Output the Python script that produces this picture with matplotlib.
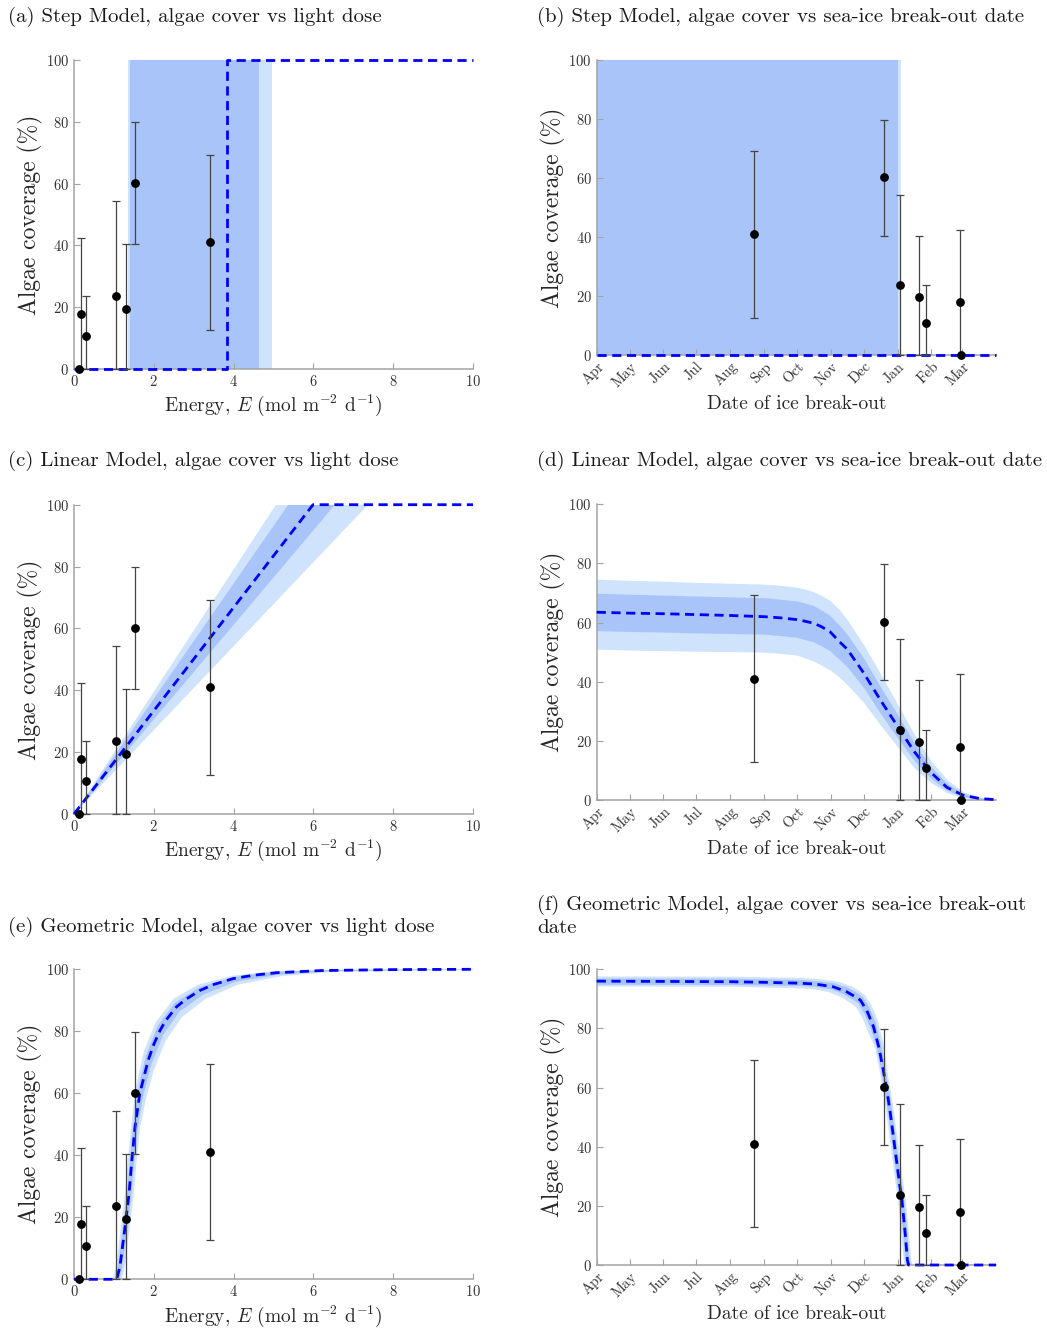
import numpy as np
import matplotlib.pyplot as plt

plt.rcParams['font.family'] = ['cmr10']
plt.rcParams['mathtext.fontset'] = 'cm'
plt.rcParams['axes.formatter.use_mathtext'] = True

# observed algae cover (%), with error bar limits
cover = np.array([0.0, 17.8, 10.8, 23.7, 19.5, 60.2, 41.0])
cover_lo = np.array([0.0, 0.0, 0.0, 0.0, 0.0, 40.5, 12.7])
cover_hi = np.array([0.0, 42.5, 23.7, 54.3, 40.5, 79.8, 69.3])
energy = np.array([0.13, 0.18, 0.29, 1.05, 1.30, 1.52, 3.41])
breakout_day = np.array([333, 332, 301, 277, 295, 263, 144])  # days after 1 April

months = ['Apr', 'May', 'Jun', 'Jul', 'Aug', 'Sep', 'Oct', 'Nov', 'Dec', 'Jan', 'Feb', 'Mar']
month_day = [0, 30, 61, 91, 122, 153, 183, 214, 244, 275, 306, 334]

# step model
step_E = [0, 3.84, 3.84, 10]
step_E_y = [0, 0, 100, 100]
step_E_light = [1.35, 4.97]
step_E_dark = [1.40, 4.63]
step_d = [0, 365]
step_d_y = [0, 0]
step_d_light = [-20, 278]
step_d_dark = [-20, 275.3]

# linear model, energy
lin_E = [0, 5.99, 10]
lin_E_y = [0, 100, 100]
lin_E_light_up = [0, 5.06, 10]
lin_E_light_lo = [0, 7.37, 10]
lin_E_dark_up = [0, 5.37, 10]
lin_E_dark_lo = [0, 6.54, 10]

# linear model, date
lin_d = [0, 30, 61, 91, 122, 153, 168, 183, 190, 198, 205, 213, 222, 229, 244, 259, 274, 290, 305, 320, 335, 350, 365]
lin_d_y = [63.5, 63.2, 63.0, 62.7, 62.4, 62.0, 61.6, 61.0, 60.5, 59.8, 58.7, 57.0, 53.5, 51.0, 43.0, 34.0, 25.5, 16.5, 9.5, 4.3, 1.6, 0.5, 0.1]
lin_d_light_up = [74.7, 74.3, 74.0, 73.6, 73.3, 73.0, 72.6, 72.0, 71.4, 70.5, 69.3, 67.5, 64.3, 61.0, 52.5, 43.0, 33.0, 22.5, 13.5, 7.0, 2.8, 1.0, 0.3]
lin_d_light_lo = [51.0, 50.7, 50.5, 50.3, 50.2, 50.0, 49.6, 49.0, 48.1, 47.0, 45.7, 44.0, 41.5, 39.0, 33.0, 25.5, 18.5, 11.0, 6.0, 2.5, 0.8, 0.2, 0.0]
lin_d_dark_up = [69.9, 69.6, 69.3, 69.0, 68.7, 68.4, 67.9, 67.3, 66.6, 65.8, 64.3, 62.5, 59.0, 56.0, 48.0, 38.5, 29.5, 19.5, 11.5, 5.7, 2.2, 0.7, 0.2]
lin_d_dark_lo = [57.3, 57.0, 56.8, 56.5, 56.3, 56.1, 55.6, 55.0, 54.3, 53.5, 52.2, 50.5, 47.5, 45.0, 38.0, 29.5, 21.5, 13.5, 7.5, 3.3, 1.1, 0.3, 0.0]

# geometric model, energy
geo_E = [0, 1.07, 1.15, 1.28, 1.38, 1.45, 1.53, 1.65, 1.86, 2.0, 2.16, 2.3, 2.57, 2.8, 3.16, 3.5, 3.99, 4.5, 5.08, 6.2, 8, 10]
geo_E_y = [0, 0, 4, 17, 27.7, 38.5, 49.2, 60, 70.7, 75.8, 80.4, 83.5, 87.9, 90.3, 93.2, 95.1, 97, 98.1, 98.9, 99.6, 99.9, 100]
geo_E_light_up_x = [0.97, 1.05, 1.18, 1.28, 1.35, 1.43, 1.55, 1.75, 2.05, 2.5, 3.1, 4.0, 5.0, 6.5, 10]
geo_E_light_up_y = [0, 4, 17, 27.7, 38.5, 49.2, 62, 73.5, 83, 90.5, 95, 98, 99.4, 99.9, 100]
geo_E_light_lo_x = [1.2, 1.27, 1.4, 1.5, 1.57, 1.66, 1.8, 2.0, 2.3, 2.7, 3.3, 4.1, 5.2, 6.5, 10]
geo_E_light_lo_y = [0, 4, 17, 27.7, 38.5, 49.2, 58, 67.5, 77, 84.5, 90.5, 95, 97.8, 99.2, 99.9]
geo_E_dark_up_x = [1.02, 1.1, 1.23, 1.33, 1.4, 1.48, 1.6, 1.8, 2.1, 2.53, 3.13, 4.0, 5.04, 6.5, 10]
geo_E_dark_up_y = [0, 4, 17, 27.7, 38.5, 49.2, 61, 72, 81.8, 89.2, 94.1, 97.5, 99.2, 99.8, 100]
geo_E_dark_lo_x = [1.14, 1.21, 1.34, 1.44, 1.51, 1.6, 1.73, 1.93, 2.23, 2.63, 3.23, 4.05, 5.14, 6.5, 10]
geo_E_dark_lo_y = [0, 4, 17, 27.7, 38.5, 49.2, 59, 69, 78.7, 86.2, 91.8, 96, 98.3, 99.4, 99.9]

# geometric model, date
geo_d = [0, 61, 122, 153, 186, 200, 216, 228, 235, 241, 247, 253, 258, 262, 265, 268, 271, 274, 277, 279, 282, 284, 285, 365]
geo_d_y = [96, 95.9, 95.8, 95.6, 95.3, 95.0, 94.1, 92.5, 91, 89.6, 86, 80.6, 73.5, 65.9, 59.5, 52.4, 44, 35.5, 27, 22, 10.7, 1.7, 0, 0]
geo_d_light_up_x = [-20, 122, 186, 203, 220, 232, 239, 245, 251, 257, 262, 265.5, 268.5, 271.5, 274.5, 277.5, 280.5, 282.5, 285.5, 287.5, 288.5]
geo_d_light_up_y = [97.6, 97.5, 97.1, 96.7, 95.9, 94.4, 93, 91.3, 88, 82.6, 75, 65.9, 59.5, 52.4, 44, 35.5, 27, 22, 10.7, 1.7, 0]
geo_d_light_lo_x = [-20, 122, 183, 197, 212, 224, 231, 237, 243, 249, 254.5, 258.5, 261.5, 264.5, 267.5, 270.5, 273.5, 275.5, 278.5, 280.5, 281.5]
geo_d_light_lo_y = [94.2, 94.1, 93.6, 93.3, 92.3, 90.5, 88.8, 87.2, 83.5, 78, 73.5, 65.9, 59.5, 52.4, 44, 35.5, 27, 22, 10.7, 1.7, 0]
geo_d_dark_up_x = [-20, 122, 186, 201, 218, 230, 237, 243, 249, 255, 260, 264, 267, 270, 273, 276, 279, 281, 284, 286, 287]
geo_d_dark_up_y = [96.9, 96.8, 96.4, 96, 95.2, 93.7, 92.3, 90.7, 87.2, 81.8, 74.5, 65.9, 59.5, 52.4, 44, 35.5, 27, 22, 10.7, 1.7, 0]
geo_d_dark_lo_x = [-20, 122, 184, 198, 214, 226, 233, 239, 245, 251, 256, 260, 263, 266, 269, 272, 275, 277, 280, 282, 283]
geo_d_dark_lo_y = [94.8, 94.7, 94.4, 94.1, 93.2, 91.6, 90, 88.5, 84.8, 79.5, 73.5, 65.9, 59.5, 52.4, 44, 35.5, 27, 22, 10.7, 1.7, 0]

LIGHT = '#cfe3fc'
DARK = '#a9c4f8'
W, H = 1047, 1330

fig = plt.figure(figsize=(W / 100, H / 100), dpi=100)


def rect(l, r, t, b):
    return [l / W, 1 - b / H, (r - l) / W, (b - t) / H]


def band(ax, ux, uy, lx, ly, color):
    ax.fill(np.r_[ux, lx[::-1]], np.r_[uy, ly[::-1]], color=color, lw=0, zorder=1)


def style(ax, date):
    for s in ['top', 'right']:
        ax.spines[s].set_visible(False)
    for s in ['left', 'bottom']:
        ax.spines[s].set_color('#a3a3a3')
        ax.spines[s].set_linewidth(1.1)
    ax.tick_params(direction='in', length=4, width=0.8, color='#a3a3a3',
                   labelcolor='#333333', labelsize=10.5)
    ax.set_ylim(0, 100)
    ax.set_yticks(range(0, 101, 20))
    ax.set_ylabel('Algae coverage (%)', fontsize=17, color='#262626', labelpad=2)
    if date:
        ax.set_xlim(0, 365)
        ax.set_xticks(month_day)
        ax.set_xticklabels(months, rotation=45, ha='right', rotation_mode='anchor')
        ax.set_xlabel('Date of ice break-out', fontsize=14, color='#262626', labelpad=4)
    else:
        ax.set_xlim(0, 10)
        ax.set_xticks(range(0, 11, 2))
        ax.set_xlabel(r'Energy, $E$ (mol m$^{-2}$ d$^{-1}$)', fontsize=14, color='#262626', labelpad=3)


def data(ax, x):
    ax.errorbar(x, cover, yerr=[cover - cover_lo, cover_hi - cover], fmt='none',
                ecolor='#444444', elinewidth=0.9, capsize=3, capthick=0.9, zorder=4, clip_on=False)
    ax.plot(x, cover, 'o', color='k', ms=5.3, zorder=5, clip_on=False)


def model(ax, x, y):
    ax.plot(x, y, color='#0000ff', lw=2, dashes=(3.3, 2.0), zorder=3, clip_on=False)


axes = {}
axes['a'] = fig.add_axes(rect(74, 473, 60, 369))
axes['b'] = fig.add_axes(rect(596.7, 996, 60, 355))
axes['c'] = fig.add_axes(rect(74, 473, 504.7, 814))
axes['d'] = fig.add_axes(rect(596.7, 996, 504.3, 800))
axes['e'] = fig.add_axes(rect(74, 473, 969.3, 1279.3))
axes['f'] = fig.add_axes(rect(596.7, 996, 969.3, 1265))

# (a)
ax = axes['a']
ax.axvspan(*step_E_light, color=LIGHT, lw=0, zorder=1)
ax.axvspan(*step_E_dark, color=DARK, lw=0, zorder=1)
model(ax, step_E, step_E_y)
data(ax, energy)
style(ax, False)

# (b)
ax = axes['b']
ax.axvspan(*step_d_light, color=LIGHT, lw=0, zorder=1)
ax.axvspan(*step_d_dark, color=DARK, lw=0, zorder=1)
model(ax, step_d, step_d_y)
data(ax, breakout_day)
style(ax, True)

# (c)
ax = axes['c']
band(ax, lin_E_light_up, lin_E_y, lin_E_light_lo, lin_E_y, LIGHT)
band(ax, lin_E_dark_up, lin_E_y, lin_E_dark_lo, lin_E_y, DARK)
model(ax, lin_E, lin_E_y)
data(ax, energy)
style(ax, False)

# (d)
ax = axes['d']
ax.fill_between(lin_d, lin_d_light_lo, lin_d_light_up, color=LIGHT, lw=0, zorder=1)
ax.fill_between(lin_d, lin_d_dark_lo, lin_d_dark_up, color=DARK, lw=0, zorder=1)
model(ax, lin_d, lin_d_y)
data(ax, breakout_day)
style(ax, True)

# (e)
ax = axes['e']
band(ax, geo_E_light_up_x, geo_E_light_up_y, geo_E_light_lo_x, geo_E_light_lo_y, LIGHT)
band(ax, geo_E_dark_up_x, geo_E_dark_up_y, geo_E_dark_lo_x, geo_E_dark_lo_y, DARK)
model(ax, geo_E, geo_E_y)
data(ax, energy)
style(ax, False)

# (f)
ax = axes['f']
band(ax, geo_d_light_up_x, geo_d_light_up_y, geo_d_light_lo_x, geo_d_light_lo_y, LIGHT)
band(ax, geo_d_dark_up_x, geo_d_dark_up_y, geo_d_dark_lo_x, geo_d_dark_lo_y, DARK)
model(ax, geo_d, geo_d_y)
data(ax, breakout_day)
style(ax, True)

titles = [
    (8, 17, '(a) Step Model, algae cover vs light dose'),
    (537, 17, '(b) Step Model, algae cover vs sea-ice break-out date'),
    (8, 461, '(c) Linear Model, algae cover vs light dose'),
    (537, 461, '(d) Linear Model, algae cover vs sea-ice break-out date'),
    (8, 927, '(e) Geometric Model, algae cover vs light dose'),
    (537, 916, '(f) Geometric Model, algae cover vs sea-ice break-out\ndate'),
]
for x, y, t in titles:
    fig.text(x / W, 1 - y / H, t, fontsize=15, color='#1a1a1a', ha='left', va='center',
             linespacing=1.3)

fig.savefig('out.png', dpi=100)
